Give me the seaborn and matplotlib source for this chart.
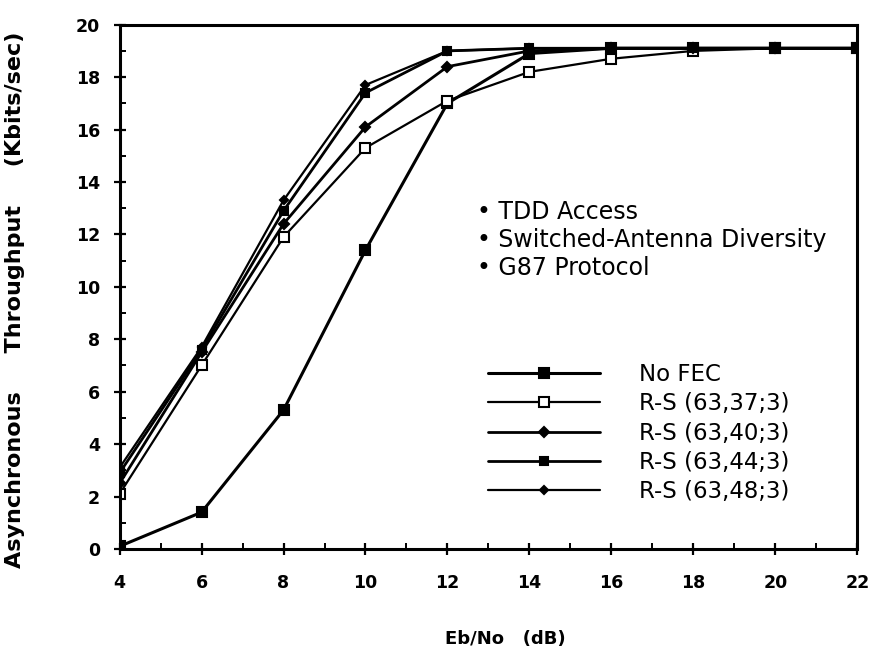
import matplotlib
matplotlib.use("Agg")
import matplotlib.pyplot as plt
import seaborn as sns
import pandas as pd
from matplotlib.ticker import MultipleLocator

sns.set_theme(style="white")
plt.rcParams["font.family"] = ["DejaVu Sans"]
plt.rcParams["text.color"] = "black"
plt.rcParams["axes.labelcolor"] = "black"
plt.rcParams["xtick.color"] = "black"
plt.rcParams["ytick.color"] = "black"

# Eb/No sample points (dB)
ebno = [4, 6, 8, 10, 12, 14, 16, 18, 20, 22]

# Asynchronous throughput (Kbits/sec) per scheme
no_fec = [0.1, 1.4, 5.3, 11.4, 17.0, 18.9, 19.1, 19.1, 19.1, 19.1]
rs_37 = [2.1, 7.0, 11.9, 15.3, 17.1, 18.2, 18.7, 19.0, 19.1, 19.1]
rs_40 = [2.5, 7.5, 12.4, 16.1, 18.4, 19.0, 19.1, 19.1, 19.1, 19.1]
rs_44 = [2.9, 7.6, 12.9, 17.4, 19.0, 19.1, 19.1, 19.1, 19.1, 19.1]
rs_48 = [3.1, 7.7, 13.3, 17.7, 19.0, 19.1, 19.1, 19.1, 19.1, 19.1]

series_names = ["No FEC", "R-S (63,37;3)", "R-S (63,40;3)", "R-S (63,44;3)", "R-S (63,48;3)"]
series_values = [no_fec, rs_37, rs_40, rs_44, rs_48]

notes = ["TDD Access", "Switched-Antenna Diversity", "G87 Protocol"]

styles = {
    "No FEC": dict(marker="s", markersize=7, mfc="black", lw=2.2),
    "R-S (63,37;3)": dict(marker="s", markersize=7, mfc="white", lw=1.6),
    "R-S (63,40;3)": dict(marker="D", markersize=5, mfc="black", lw=2.0),
    "R-S (63,44;3)": dict(marker="s", markersize=6, mfc="black", lw=2.0),
    "R-S (63,48;3)": dict(marker="D", markersize=4, mfc="black", lw=1.6),
}

df = pd.DataFrame({
    "EbNo": ebno * len(series_names),
    "Throughput": [v for vals in series_values for v in vals],
    "Scheme": [n for n in series_names for _ in ebno],
})

fig = plt.figure(figsize=(8.73, 6.67), dpi=100)
ax = fig.add_axes([0.137, 0.177, 0.845, 0.786])

for name in series_names:
    st = styles[name]
    sub = df[df["Scheme"] == name]
    sns.lineplot(data=sub, x="EbNo", y="Throughput", ax=ax, color="black",
                 linewidth=st["lw"], marker=st["marker"], markersize=st["markersize"],
                 markerfacecolor=st["mfc"], markeredgecolor="black", markeredgewidth=1.5,
                 label=name, legend=False)

ax.set_xlim(4, 22)
ax.set_ylim(0, 20)
ax.xaxis.set_major_locator(MultipleLocator(2))
ax.xaxis.set_minor_locator(MultipleLocator(1))
ax.yaxis.set_major_locator(MultipleLocator(2))
ax.yaxis.set_minor_locator(MultipleLocator(1))
ax.tick_params(which="major", direction="inout", length=8, width=1.6,
               labelsize=12.5, bottom=True, left=True)
ax.tick_params(axis="x", which="major", pad=14)
ax.tick_params(axis="y", which="major", pad=10)
ax.tick_params(which="minor", direction="in", length=4, width=1.4, bottom=True, left=True)
for lab in ax.get_xticklabels() + ax.get_yticklabels():
    lab.set_fontweight("bold")

for sp in ax.spines.values():
    sp.set_visible(True)
    sp.set_color("black")
    sp.set_linewidth(2.2)

ax.set_xlabel("Eb/No   (dB)", fontsize=13, fontweight="bold")
ax.xaxis.set_label_coords(0.523, -0.155)
ax.set_ylabel("Asynchronous     Throughput     (Kbits/sec)", fontsize=16, fontweight="bold")
ax.yaxis.set_label_coords(-0.128, 0.475)

# Test conditions
for i, note in enumerate(notes):
    ax.text(0.484, 0.643 - i * 0.0534, "\u2022 " + note, transform=ax.transAxes,
            fontsize=17, color="black", va="center", ha="left")

handles, labels = ax.get_legend_handles_labels()
ax.legend(handles, labels, loc="upper left", bbox_to_anchor=(0.499, 0.355),
          frameon=False, fontsize=16.5, handlelength=4.9, handletextpad=1.7,
          labelspacing=0.28, borderpad=0, borderaxespad=0)

fig.savefig("out.png", dpi=100)
